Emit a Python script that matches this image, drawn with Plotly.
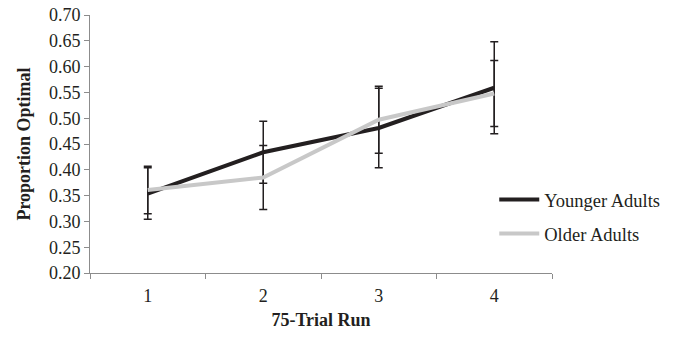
import plotly.graph_objects as go

runs = ["1", "2", "3", "4"]
younger = [0.354, 0.434, 0.481, 0.559]
younger_err = [0.050, 0.060, 0.077, 0.089]
older = [0.361, 0.385, 0.497, 0.548]
older_err = [0.046, 0.062, 0.065, 0.064]
y_ticks = [0.20, 0.25, 0.30, 0.35, 0.40, 0.45, 0.50, 0.55, 0.60, 0.65, 0.70]

FONT = "Liberation Serif, Times New Roman, serif"
TXT = "#231f20"
AX = "#8c8c8c"

fig = go.Figure()
fig.add_trace(go.Scatter(
    x=runs, y=younger, mode="lines", name="Younger Adults",
    legendgroup="y",
    line=dict(color="#231f20", width=4),
    error_y=dict(type="data", array=younger_err, color="#231f20", thickness=1.5, width=4),
))
fig.add_trace(go.Scatter(
    x=runs, y=older, mode="lines", name="Older Adults",
    legendgroup="o",
    line=dict(color="#c8c8c8", width=4),
    error_y=dict(type="data", array=older_err, color="#231f20", thickness=1.5, width=4),
))

fig.update_layout(
    width=686, height=339,
    margin=dict(l=90, r=134, t=15, b=66),
    paper_bgcolor="white", plot_bgcolor="white",
    font=dict(family=FONT, color=TXT, size=18),
    showlegend=True,
    legend=dict(x=0.875, xanchor="left", y=0.357, yanchor="top",
                font=dict(family=FONT, size=18.5, color=TXT),
                itemwidth=40, tracegroupgap=7, traceorder="grouped",
                bgcolor="rgba(0,0,0,0)"),
    xaxis=dict(
        type="category", tickson="boundaries", ticks="outside", ticklen=5,
        tickcolor=AX, showline=True, linecolor=AX, linewidth=1,
        showgrid=False, zeroline=False, range=[-0.5, 3.5],
        automargin=False, ticklabelstandoff=6,
        tickfont=dict(family=FONT, size=18, color=TXT),
        title=dict(text="<b>75-Trial Run</b>", font=dict(family=FONT, size=18, color=TXT), standoff=8),
    ),
    yaxis=dict(
        range=[0.2, 0.7], tickvals=y_ticks, tickformat=".2f",
        ticks="outside", ticklen=5, tickcolor=AX,
        showline=True, linecolor=AX, linewidth=1,
        showgrid=False, zeroline=False,
        automargin=False,
        tickfont=dict(family=FONT, size=18, color=TXT),
        title=dict(text="<b>Proportion Optimal</b>", font=dict(family=FONT, size=18, color=TXT), standoff=13),
    ),
)

fig.write_html("out.html", config={"displayModeBar": False},
               post_script="document.body.style.margin='0';")
